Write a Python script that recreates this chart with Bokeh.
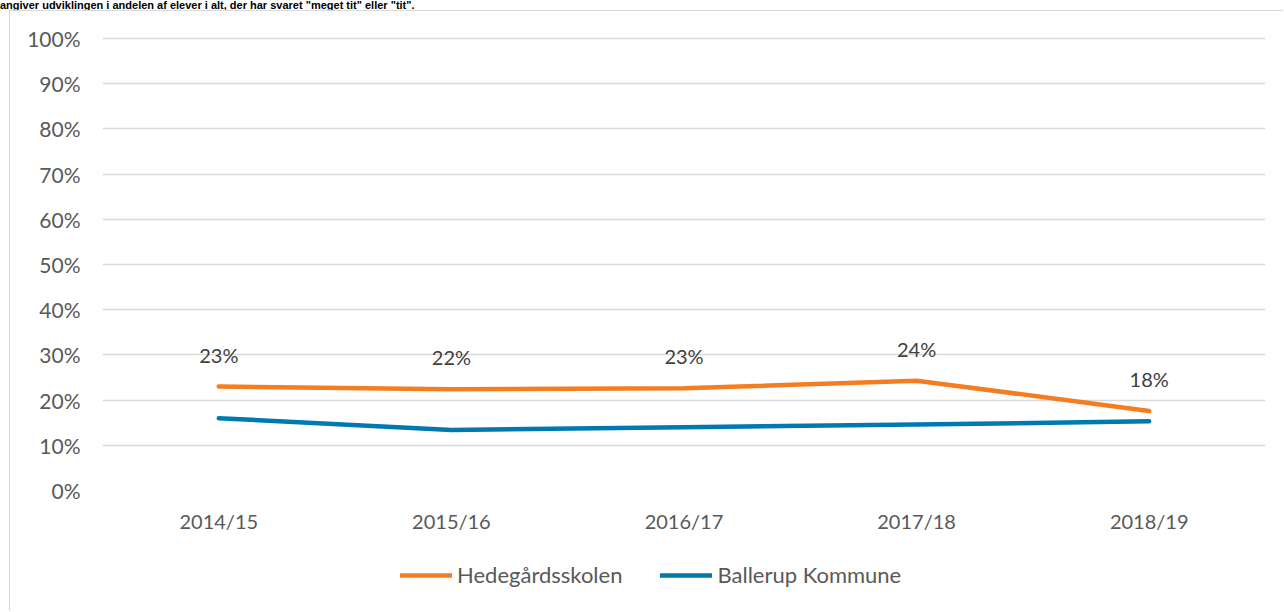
from bokeh.plotting import figure
from bokeh.layouts import column
from bokeh.models import (FactorRange, Range1d, Legend, LegendItem, Div,
                          ColumnDataSource, FixedTicker)
from bokeh.core.properties import value
from bokeh.embed import file_html
from bokeh.resources import INLINE

title_text = 'angiver udviklingen i andelen af elever i alt, der har svaret "meget tit" eller "tit".'
years = ["2014/15", "2015/16", "2016/17", "2017/18", "2018/19"]
hedegaard = [23.0, 22.4, 22.6, 24.3, 17.6]
ballerup = [16.0, 13.4, 14.0, 14.6, 15.3]
series_names = ["Hedegårdsskolen", "Ballerup Kommune"]
y_ticks = [0, 10, 20, 30, 40, 50, 60, 70, 80, 90, 100]

ORANGE = "#F47D22"
BLUE = "#0079B0"
FONT = "Lato"
FS = "20px"
BORDER = "1px solid #d9d9d9"

title = Div(text=title_text, width=1280, height=10, margin=(0, 0, 0, 0),
            styles={"font-family": "'Liberation Sans', Arial, sans-serif",
                    "font-weight": "bold", "font-size": "11px",
                    "line-height": "10px", "color": "#000000",
                    "white-space": "nowrap"})

src = ColumnDataSource(dict(x=years, h=hedegaard, b=ballerup,
                            lab=[f"{round(v)}%" for v in hedegaard]))

# ---------------- main chart ----------------
W, H = 1274, 530
p = figure(width=W, height=H,
           x_range=FactorRange(*years, range_padding=0, factor_padding=0),
           y_range=Range1d(0, 100.885),
           output_backend="svg", toolbar_location=None,
           min_border_left=92, min_border_right=19,
           min_border_top=23, min_border_bottom=51,
           margin=(0, 0, 0, 9),
           styles={"border-top": BORDER, "border-left": BORDER})
p.outline_line_color = None
p.background_fill_color = "white"
p.border_fill_color = "white"

p.yaxis.ticker = FixedTicker(ticks=y_ticks)
p.yaxis.major_label_overrides = {t: f"{t}%" for t in y_ticks}
for ax in (p.xaxis[0], p.yaxis[0]):
    ax.axis_line_color = None
    ax.major_tick_line_color = None
    ax.minor_tick_line_color = None
    ax.major_tick_out = 0
    ax.major_tick_in = 0
    ax.minor_tick_out = 0
    ax.minor_tick_in = 0
    ax.major_label_text_font = FONT
    ax.major_label_text_color = "#595959"
    ax.major_label_text_font_size = FS
p.yaxis.major_label_text_font_size = "21px"
p.yaxis.major_label_standoff = 22
p.xaxis.major_label_standoff = 18

p.xgrid.grid_line_color = None
p.ygrid.ticker = FixedTicker(ticks=y_ticks)
p.ygrid.grid_line_color = "#d9d9d9"
p.ygrid.grid_line_width = 1.4

p.line("x", "h", source=src, line_color=ORANGE, line_width=4.5,
       line_cap="round", line_join="round")
p.line("x", "b", source=src, line_color=BLUE, line_width=4.5,
       line_cap="round", line_join="round")

p.text("x", "h", text="lab", source=src, y_offset=-32,
       text_align="center", text_baseline="middle",
       text_font=value(FONT), text_font_size=FS, text_color="#404040")

# ---------------- legend strip ----------------
LH = 71
lf = figure(width=W, height=LH,
            x_range=FactorRange(*years, range_padding=0, factor_padding=0),
            y_range=Range1d(1000, 1001),
            output_backend="svg", toolbar_location=None,
            x_axis_location=None, y_axis_location=None,
            min_border=0, margin=(0, 0, 0, 9),
            styles={"border-left": BORDER})
lf.outline_line_color = None
lf.grid.visible = False
lr_h = lf.line("x", "h", source=src, line_color=ORANGE, line_width=4.5,
               line_cap="round")
lr_b = lf.line("x", "b", source=src, line_color=BLUE, line_width=4.5,
               line_cap="round")

legend = Legend(items=[LegendItem(label=series_names[0], renderers=[lr_h]),
                       LegendItem(label=series_names[1], renderers=[lr_b])],
                orientation="horizontal", location=(298, 23),
                glyph_width=52, glyph_height=20, label_height=20,
                label_standoff=5, spacing=38, padding=0, margin=0,
                border_line_color=None, background_fill_alpha=0,
                label_text_font=FONT, label_text_font_size="22px",
                label_text_color="#595959")
lf.add_layout(legend)

layout = column(title, p, lf, spacing=0, margin=(0, 0, 0, 0))
open("out.html", "w").write(file_html(layout, INLINE))
